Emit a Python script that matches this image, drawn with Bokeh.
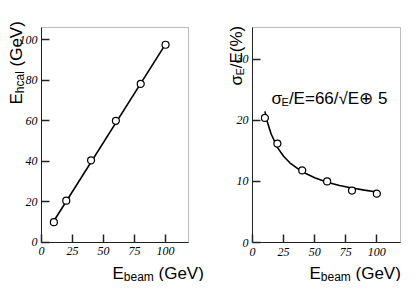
from math import pi
from bokeh.plotting import figure
from bokeh.models import Label, Range1d, BoxAnnotation
from bokeh.layouts import row
from bokeh.embed import file_html
from bokeh.resources import INLINE

# ---- data ----
e_beam = [10, 20, 40, 60, 80, 100]
e_hcal = [10.0, 20.6, 40.5, 60.0, 78.2, 97.5]
fit_lin_x = [10, 100]
fit_lin_y = [10.6, 97.8]

sigma_res = [20.4, 16.2, 11.8, 10.0, 8.5, 8.0]
fit_res_x = [10, 12, 15, 20, 25, 30, 40, 50, 60, 70, 80, 90, 100]
fit_res_y = [21.46, 19.70, 17.76, 15.58, 14.12, 13.05, 11.57, 10.59, 9.88, 9.34, 8.91, 8.57, 8.28]

x_ticks = [0, 25, 50, 75, 100]
y_ticks_left = [0, 20, 40, 60, 80, 100]
y_ticks_right = [0, 10, 20, 30]

# plotted box extents (data units)
left_box = (0, 118.5, 0, 106)
right_box = (0, 119, 0, 35.2)

SANS = "Liberation Sans"
SERIF = "Liberation Serif"


def style(p, xt, yt, box):
    x0, x1, y0, y1 = box
    p.grid.visible = False
    p.outline_line_color = None
    p.background_fill_color = "white"
    p.border_fill_color = "white"
    p.xaxis.ticker = xt
    p.yaxis.ticker = yt
    p.xaxis.fixed_location = y0
    p.yaxis.fixed_location = x0
    p.xaxis.bounds = (x0, x1)
    p.yaxis.bounds = (y0, y1)
    for ax in (p.xaxis, p.yaxis):
        ax.major_tick_in = 8
        ax.major_tick_out = 0
        ax.minor_tick_in = 0
        ax.minor_tick_out = 0
        ax.axis_line_color = "#222222"
        ax.axis_line_width = 1
        ax.major_tick_line_color = "#222222"
        ax.major_tick_line_width = 1.5
        ax.major_label_text_font = SERIF
        ax.major_label_text_font_style = "italic"
        ax.major_label_text_font_size = "12px"
        ax.major_label_text_color = "black"
    p.xaxis.major_label_standoff = 5
    p.yaxis.major_label_standoff = 4
    p.add_layout(BoxAnnotation(left=x0, right=x1, bottom=y0, top=y1,
                               fill_alpha=0, line_color="#222222", line_width=1))


def lab(p, text, x, y, size, angle=0.0):
    p.add_layout(Label(x=x, y=y, x_units="canvas", y_units="canvas", text=text,
                       text_font=SANS, text_font_size=f"{size}px", angle=angle,
                       text_align="left", text_baseline="alphabetic", text_color="black"))


# ---- left panel ----
p1 = figure(width=206, height=281, x_range=Range1d(-33.0, 133.0), y_range=Range1d(-19.23, 119.31),
            output_backend="svg", toolbar_location=None,
            min_border_left=0, min_border_right=0, min_border_top=0, min_border_bottom=0)
style(p1, x_ticks, y_ticks_left, left_box)
p1.line(fit_lin_x, fit_lin_y, line_color="black", line_width=1.6)
p1.scatter(e_beam, e_hcal, marker="circle", size=7, fill_color="white",
           line_color="black", line_width=1.2)

# y label (rotated): E_hcal (GeV)
lab(p1, "E", 16, 104, 17, pi / 2)
lab(p1, "hcal", 19, 92.7, 12, pi / 2)
lab(p1, "(GeV)", 16, 66.0, 17, pi / 2)
# x label: E_beam (GeV)
lab(p1, "E", 112, 273, 17)
lab(p1, "beam", 123.3, 276.5, 12)
lab(p1, "(GeV)", 158.0, 273, 17)

# ---- right panel ----
p2 = figure(width=198, height=281, x_range=Range1d(-36.99, 122.22), y_range=Range1d(-6.385, 39.62),
            output_backend="svg", toolbar_location=None,
            min_border_left=0, min_border_right=0, min_border_top=0, min_border_bottom=0)
style(p2, x_ticks, y_ticks_right, right_box)
p2.line(fit_res_x, fit_res_y, line_color="black", line_width=1.6)
p2.scatter(e_beam, sigma_res, marker="circle", size=7, fill_color="white",
           line_color="black", line_width=1.2)

# y label (rotated): sigma_E/E(%)
lab(p2, "σ", 30, 85, 17, pi / 2)
lab(p2, "E", 33, 75.1, 11, pi / 2)
lab(p2, "/E(%)", 30, 67.8, 17, pi / 2)
# x label
lab(p2, "E", 103, 273, 17)
lab(p2, "beam", 114.3, 276.5, 12)
lab(p2, "(GeV)", 149.0, 273, 17)
# annotation
lab(p2, "σ", 65, 98, 17)
lab(p2, "E", 74.9, 101.5, 11)
lab(p2, "/E=66/√E⊕ 5", 82.4, 98, 17)

layout = row(p1, p2)
open("out.html", "w").write(file_html(layout, INLINE))
